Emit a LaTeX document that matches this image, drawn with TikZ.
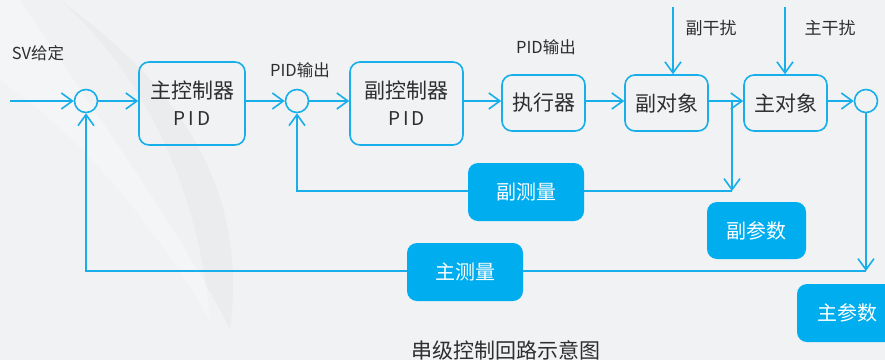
\documentclass[tikz,border=0pt]{standalone}
\usepackage{fontspec}
\setmainfont{Noto Sans CJK SC}
\usetikzlibrary{arrows.meta}
\definecolor{lineblue}{HTML}{17AEEA}
\definecolor{fillblue}{HTML}{00AEEF}
\definecolor{txt}{HTML}{2E2E2E}
\definecolor{bg}{HTML}{F0F2F4}
\tikzset{
  blk/.style={draw=lineblue, line width=1.6pt, rounded corners=10pt, text=txt,
    font=\fontsize{21}{25}\selectfont, align=center, inner sep=0pt},
  fbox/.style={fill=fillblue, rounded corners=10pt, text=white,
    font=\fontsize{20}{24}\selectfont, inner sep=0pt},
  sumc/.style={circle, draw=lineblue, line width=1.6pt, minimum size=23pt, inner sep=0pt},
  lbl/.style={text=txt, font=\fontsize{16.5}{20}\selectfont, inner sep=0pt},
  conn/.style={draw=lineblue, line width=1.6pt},
  arr/.style={conn, -{Straight Barb[length=11pt,width=16pt,line width=1.6pt]}}
}
\newcommand{\pidtxt}{{\addfontfeatures{LetterSpace=15}\fontsize{19}{23}\selectfont PID}}
\begin{document}
\begin{tikzpicture}[x=1pt,y=-1pt]
\useasboundingbox (0,0) rectangle (885,360);
\clip (0,0) rectangle (885,360);
\fill[bg] (0,0) rectangle (885,360);
\fill[black, opacity=0.025] (60,0) .. controls (170,80) and (250,180) .. (230,330) .. controls (180,230) and (100,120) .. (20,0) -- cycle;
\fill[white, opacity=0.3] (0,0) -- (60,0) .. controls (150,80) and (200,200) .. (210,320) .. controls (140,200) and (60,120) .. (0,80) -- cycle;

% summing junctions
\node[sumc] (c1) at (86,101) {};
\node[sumc] (c2) at (297,101) {};
\node[sumc] (c3) at (866,101) {};

% blocks
\node[blk, minimum width=106pt, minimum height=83pt] (b1) at (192,103.5) {主控制器\\[2pt]\pidtxt};
\node[blk, minimum width=113pt, minimum height=83pt] (b2) at (406.5,103.5) {副控制器\\[2pt]\pidtxt};
\node[blk, minimum width=83pt, minimum height=56pt] (b3) at (543.5,103) {执行器};
\node[blk, minimum width=83pt, minimum height=56pt] (b4) at (666.5,103) {副对象};
\node[blk, minimum width=83pt, minimum height=56pt] (b5) at (785.5,103) {主对象};

% filled boxes
\node[fbox, minimum width=116pt, minimum height=58pt] (fm1) at (526,192) {副测量};
\node[fbox, minimum width=99pt, minimum height=57pt] (p1) at (756.5,230.5) {副参数};
\node[fbox, minimum width=116pt, minimum height=58pt] (mm) at (465,272) {主测量};
\node[fbox, minimum width=100pt, minimum height=58pt] (p2) at (847,313) {主参数};

% labels
\node[lbl] (lsv) at (38,53) {SV给定};
\node[lbl] (lpid1) at (300,70) {PID输出};
\node[lbl] (lpid2) at (546,47) {PID输出};
\node[lbl, font=\fontsize{17}{20}\selectfont] (ld1) at (711,28) {副干扰};
\node[lbl, font=\fontsize{17}{20}\selectfont] (ld2) at (830,28) {主干扰};
\node[lbl, font=\fontsize{21}{24}\selectfont] (cap) at (506,350) {串级控制回路示意图};

% coordinates
\coordinate (sv) at (10,101);
\coordinate (d1) at (673,7);
\coordinate (d2) at (785,7);
\coordinate (br) at (732,101);
\coordinate (f1) at (732,191);
\coordinate (f2) at (866,271);

% forward path
\draw[arr] (sv) -- (c1.west);
\draw[arr] (c1.east) -- (b1.west |- c1.east);
\draw[arr] (b1.east |- c2.west) -- (c2.west);
\draw[arr] (c2.east) -- (b2.west |- c2.east);
\draw[arr] (b2.east |- c2.east) -- (b3.west |- c2.east);
\draw[arr] (b3.east |- c2.east) -- (b4.west |- c2.east);
\draw[arr] (b4.east |- c2.east) -- (b5.west |- c2.east);
\draw[arr] (b5.east |- c3.west) -- (c3.west);

% disturbances
\draw[arr] (d1) -- (d1 |- b4.north);
\draw[arr] (d2) -- (d2 |- b5.north);

% inner feedback
\draw[arr] (br) -- (f1);
\draw[conn] (f1) -- (f1 -| fm1.east);
\draw[arr] (f1 -| fm1.west) -| (c2.south);

% outer feedback
\draw[arr] (c3.south) -- (f2);
\draw[conn] (f2) -- (f2 -| mm.east);
\draw[arr] (f2 -| mm.west) -| (c1.south);
\end{tikzpicture}
\end{document}
